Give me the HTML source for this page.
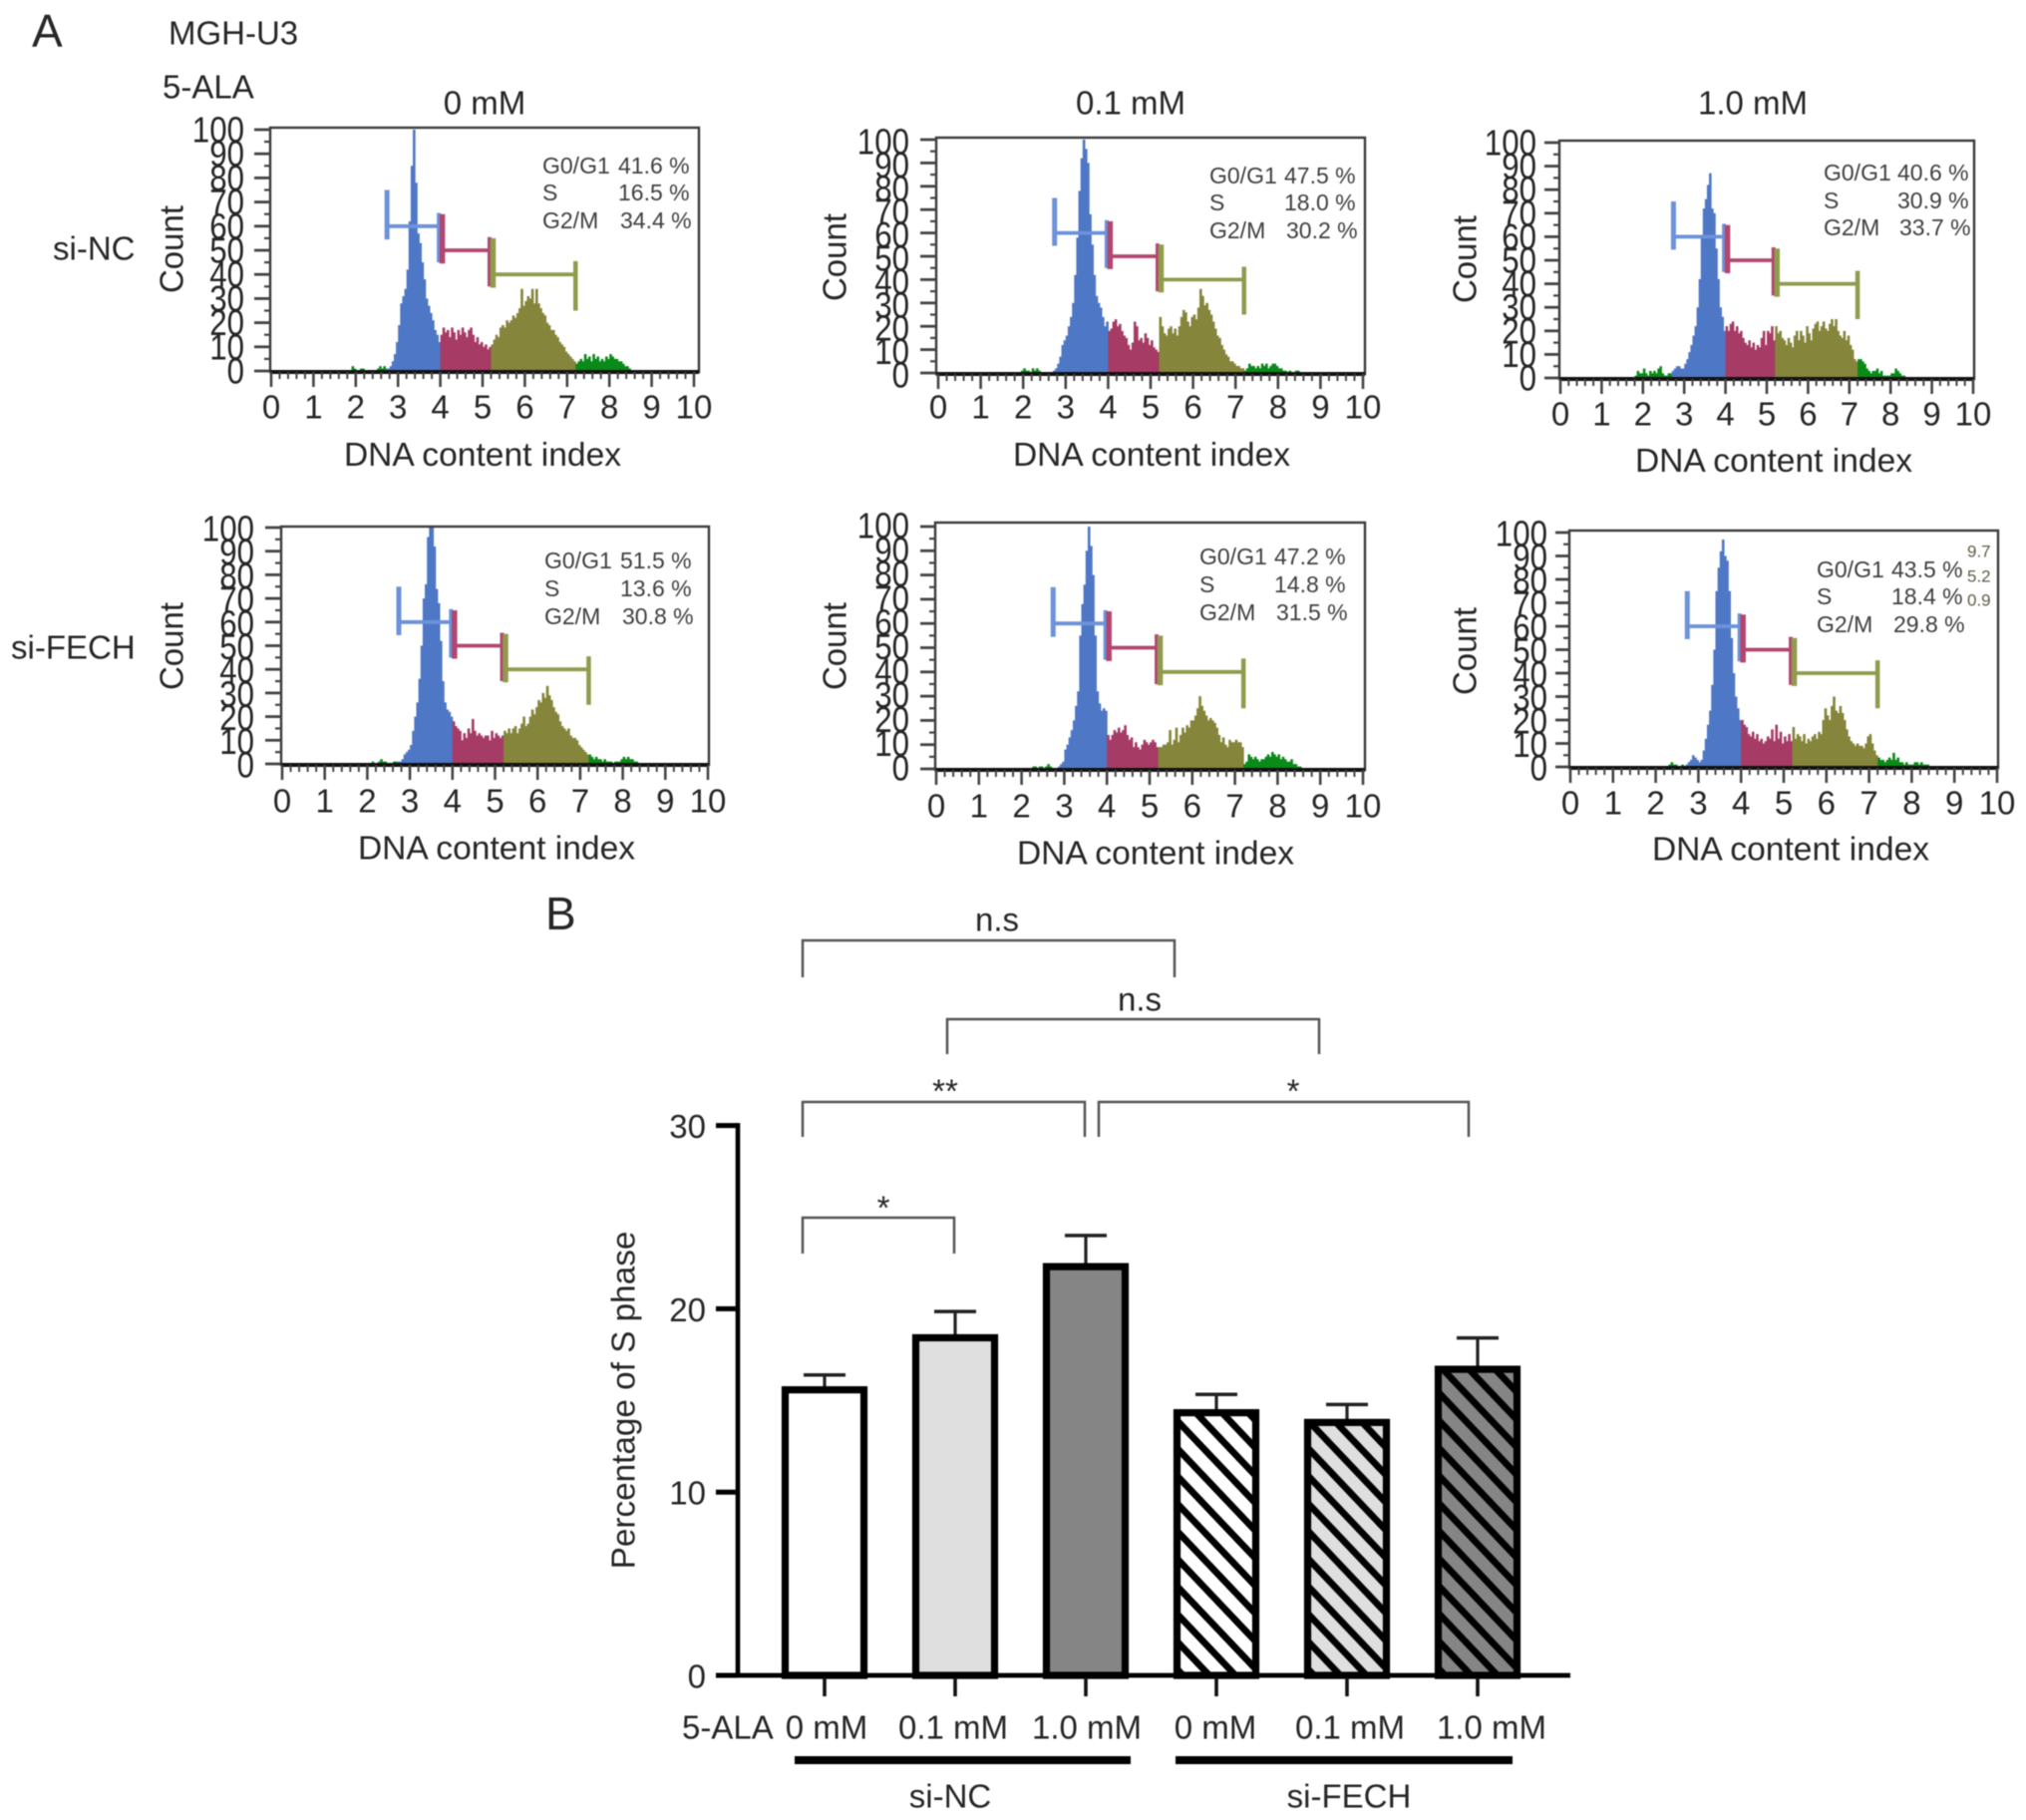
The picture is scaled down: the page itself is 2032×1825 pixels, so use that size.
<!DOCTYPE html>
<html lang="en">
<head>
<meta charset="utf-8">
<title>MGH-U3 cell cycle analysis</title>
<style>
html,body{margin:0;padding:0;background:#fff;}
svg{display:block;filter:blur(0.55px);}
text{font-family:"Liberation Sans",Arial,sans-serif;fill:#262626;dominant-baseline:central;}
.lg{font-size:33px;}
.dna{font-size:33.6px;text-anchor:middle;}
.st{font-size:23px;fill:#3f3f3f;}
.mid{text-anchor:middle;}
.br{fill:none;stroke:#555;stroke-width:2.5;}
</style>
</head>
<body>
<svg id="fig" xmlns="http://www.w3.org/2000/svg" width="2032" height="1825" viewBox="0 0 2032 1825">
<defs>
<pattern id="hatch-white" width="19.06" height="25" patternUnits="userSpaceOnUse" patternTransform="translate(1184 1433) rotate(-43.5)"><rect x="-1" y="-1" width="22" height="27" fill="#ffffff"/><rect x="0" y="-1" width="6.8" height="27" fill="#000"/></pattern>
<pattern id="hatch-light" width="19.06" height="25" patternUnits="userSpaceOnUse" patternTransform="translate(1184 1433) rotate(-43.5)"><rect x="-1" y="-1" width="22" height="27" fill="#dfdfdf"/><rect x="0" y="-1" width="6.8" height="27" fill="#000"/></pattern>
<pattern id="hatch-dark" width="19.06" height="25" patternUnits="userSpaceOnUse" patternTransform="translate(1184 1433) rotate(-43.5)"><rect x="-1" y="-1" width="22" height="27" fill="#858585"/><rect x="0" y="-1" width="6.8" height="27" fill="#000"/></pattern>
</defs>
<rect width="2032" height="1825" fill="#fff"/>

<text x="32" y="31" style="font-size:46px">A</text>
<text x="169" y="33" class="lg">MGH-U3</text>
<text x="163" y="87" class="lg">5-ALA</text>
<text x="486" y="103" class="lg mid">0 mM</text>
<text x="1134" y="103" class="lg mid">0.1 mM</text>
<text x="1758" y="103" class="lg mid">1.0 mM</text>
<text x="53" y="249" class="lg">si-NC</text>
<text x="11" y="649" class="lg">si-FECH</text>

<g id="hist-layer"></g>

<!-- axis titles for the histogram panels -->
<text x="484" y="456.500" class="dna">DNA content index</text>
<text x="1155" y="456.500" class="dna">DNA content index</text>
<text x="1779" y="462.500" class="dna">DNA content index</text>
<text x="498" y="851" class="dna">DNA content index</text>
<text x="1159" y="856" class="dna">DNA content index</text>
<text x="1796" y="852" class="dna">DNA content index</text>
<text transform="translate(172 250) rotate(-90)" class="lg mid">Count</text>
<text transform="translate(837 258) rotate(-90)" class="lg mid">Count</text>
<text transform="translate(1469 260) rotate(-90)" class="lg mid">Count</text>
<text transform="translate(172 648) rotate(-90)" class="lg mid">Count</text>
<text transform="translate(837 648) rotate(-90)" class="lg mid">Count</text>
<text transform="translate(1469 653) rotate(-90)" class="lg mid">Count</text>

<!-- phase percentages -->
<g>
<text x="544" y="166" class="st">G0/G1</text><text x="620" y="166" class="st">41.6 %</text>
<text x="544" y="193" class="st">S</text><text x="620" y="193" class="st">16.5 %</text>
<text x="544" y="221" class="st">G2/M</text><text x="622" y="221" class="st">34.4 %</text>
</g>
<g>
<text x="1213" y="176" class="st">G0/G1</text><text x="1288" y="176" class="st">47.5 %</text>
<text x="1213" y="203" class="st">S</text><text x="1288" y="203" class="st">18.0 %</text>
<text x="1213" y="231" class="st">G2/M</text><text x="1290" y="231" class="st">30.2 %</text>
</g>
<g>
<text x="1829" y="173" class="st">G0/G1</text><text x="1903" y="173" class="st">40.6 %</text>
<text x="1829" y="201" class="st">S</text><text x="1903" y="201" class="st">30.9 %</text>
<text x="1829" y="228" class="st">G2/M</text><text x="1905" y="228" class="st">33.7 %</text>
</g>
<g>
<text x="546" y="562" class="st">G0/G1</text><text x="622" y="562" class="st">51.5 %</text>
<text x="546" y="590" class="st">S</text><text x="622" y="590" class="st">13.6 %</text>
<text x="546" y="618" class="st">G2/M</text><text x="624" y="618" class="st">30.8 %</text>
</g>
<g>
<text x="1203" y="558" class="st">G0/G1</text><text x="1278" y="558" class="st">47.2 %</text>
<text x="1203" y="586" class="st">S</text><text x="1278" y="586" class="st">14.8 %</text>
<text x="1203" y="614" class="st">G2/M</text><text x="1280" y="614" class="st">31.5 %</text>
</g>
<g>
<text x="1822" y="571" class="st">G0/G1</text><text x="1897" y="571" class="st">43.5 %</text>
<text x="1822" y="598" class="st">S</text><text x="1897" y="598" class="st">18.4 %</text>
<text x="1822" y="626" class="st">G2/M</text><text x="1899" y="626" class="st">29.8 %</text>
<text x="1973" y="553" style="font-size:17px;fill:#5f5a48">9.7</text>
<text x="1973" y="578" style="font-size:17px;fill:#5f5a48">5.2</text>
<text x="1973" y="602" style="font-size:17px;fill:#5f5a48">0.9</text>
</g>

<!-- panel B static labels -->
<text x="547" y="916" style="font-size:46px">B</text>
<text x="1000" y="922" class="lg mid">n.s</text>
<text x="1143" y="1002" class="lg mid">n.s</text>
<text x="948" y="1094" class="lg mid">**</text>
<text x="1297" y="1094" class="lg mid">*</text>
<text x="886" y="1211" class="lg mid">*</text>
<polyline class="br" points="805,980 805,943 1178,943 1178,980"/>
<polyline class="br" points="950,1057 950,1022 1323,1022 1323,1057"/>
<polyline class="br" points="805,1140 805,1105 1088,1105 1088,1140"/>
<polyline class="br" points="1102,1140 1102,1105 1473,1105 1473,1140"/>
<polyline class="br" points="805,1257 805,1221 957,1221 957,1257"/>

<g id="bar-layer"></g>

<text transform="translate(626 1404) rotate(-90)" style="font-size:33.3px" class="mid">Percentage of S phase</text>
<text x="684" y="1732" class="lg">5-ALA</text>
<text x="829" y="1732" class="lg mid">0 mM</text>
<text x="956" y="1732" class="lg mid">0.1 mM</text>
<text x="1090" y="1732" class="lg mid">1.0 mM</text>
<text x="1219" y="1732" class="lg mid">0 mM</text>
<text x="1354" y="1732" class="lg mid">0.1 mM</text>
<text x="1496" y="1732" class="lg mid">1.0 mM</text>
<rect x="797" y="1761" width="337" height="8" fill="#000"/>
<rect x="1179" y="1761" width="338" height="8" fill="#000"/>
<text x="953" y="1801" class="lg mid">si-NC</text>
<text x="1353" y="1801" class="lg mid">si-FECH</text>
</svg>

<script>
// ---- histogram data: counts per 0.05-wide bin, starting at DNA index 1.8 ----
const binStart = 1.8;
const binWidth = 0.05;
const histSiNc0 = [
 0,0,2,1,0,0,1,1,0,0,0,0,0,0,1,2,1,2,
 1,1,2,4,7,12,19,28,31,34,42,62,85,100,78,57,53,45,38,30,27,24,21,17,15,12,
 15,18,16,17,14,18,16,13,17,15,18,16,14,17,18,15,12,14,11,12,10,11,9,10,
 11,13,15,14,18,19,18,21,20,21,23,22,24,26,34,27,29,31,30,34,28,34,28,26,24,23,20,19,17,17,15,14,12,11,10,8,7,6,5,4,
 3,4,5,4,7,5,6,4,7,5,6,4,5,4,6,5,7,6,5,5,4,4,3,2,2,1,0,0];
const histSiNc01 = [
 0,0,0,1,2,1,1,0,2,1,2,1,0,0,0,0,0,0,
 1,2,4,7,12,14,16,20,24,30,42,58,78,92,100,96,90,68,55,42,33,30,28,24,20,22,
 18,19,22,23,20,21,18,16,15,12,10,13,22,20,14,15,13,17,15,12,14,11,10,9,
 24,20,17,16,19,20,17,19,16,20,24,27,26,22,20,24,25,23,28,36,33,29,30,27,25,22,19,16,15,12,10,8,7,5,5,4,3,3,2,2,
 1,2,4,3,3,2,3,2,4,3,4,2,3,4,4,3,2,2,1,1,0,1,0,0,1,1,0,0];
const histSiNc10 = [
 1,3,2,2,4,2,1,3,2,3,2,4,5,2,1,1,2,2,
 3,4,5,5,4,4,6,8,11,14,18,22,30,42,60,72,76,82,87,72,70,55,42,30,26,20,
 22,20,23,24,20,22,19,20,17,15,14,16,13,15,12,14,13,17,20,14,20,19,22,16,
 22,19,20,17,16,14,17,15,13,18,20,16,20,18,15,22,19,16,21,23,24,20,22,24,21,20,23,25,22,25,20,18,17,20,16,18,14,12,8,7,
 8,8,7,6,4,3,2,3,3,4,2,3,1,1,1,1,2,2,4,3,2,1,1,0,0,0,0,0];
const histSiFech0 = [
 0,0,0,0,0,0,1,0,0,1,2,1,1,0,0,0,1,1,
 1,1,2,4,5,6,8,14,20,26,36,50,70,76,96,100,100,92,74,68,52,35,26,23,22,20,
 18,16,15,14,10,13,11,15,13,19,14,12,13,12,11,12,12,10,14,11,13,12,11,12,
 14,13,15,13,15,16,13,15,17,20,16,17,20,23,21,24,27,26,30,28,33,29,27,24,22,21,18,16,15,14,15,12,11,11,10,8,7,6,5,4,
 4,3,2,3,2,2,1,2,1,1,1,0,1,1,1,2,3,2,3,2,2,1,1,0,0,0,0,0];
const histSiFech01 = [
 0,0,0,0,0,0,0,0,0,1,1,0,1,1,0,1,2,1,
 0,0,0,1,2,3,8,10,13,16,20,26,32,55,68,76,90,100,92,80,55,32,27,24,25,24,
 14,12,14,16,15,17,15,16,18,14,12,13,9,11,9,8,10,12,11,10,11,12,11,9,
 9,9,10,10,11,16,10,12,17,11,14,17,15,18,17,20,20,22,25,30,26,24,22,20,21,20,19,17,14,11,13,10,9,12,11,11,12,11,11,9,
 2,3,6,5,4,5,4,3,4,4,5,6,5,7,6,5,6,4,5,4,3,3,4,2,2,1,1,0];
const histSiFech10 = [
 0,0,0,0,0,0,0,0,0,0,1,2,1,1,0,0,1,0,
 1,2,3,5,4,3,2,3,7,12,18,24,35,50,75,85,92,97,90,88,75,55,40,30,25,20,
 20,18,17,14,13,15,12,14,11,12,10,11,13,12,16,11,18,12,15,10,13,11,14,11,
 17,12,14,13,11,14,10,12,11,13,14,12,15,14,20,25,22,20,26,30,24,23,26,23,20,16,13,11,10,9,10,9,9,8,10,13,14,10,7,5,
 4,3,3,2,3,4,3,6,3,4,2,2,1,2,1,1,1,2,2,1,2,1,1,1,0,0,0,0];

// gates (cell-cycle phase markers)
const gateStarts = [2.74, 4.0, 5.2];
const gateEnds = [4.0, 5.2, 7.2];
const gateLevels = [60, 50, 40];
const xTickLabels = ['0','1','2','3','4','5','6','7','8','9','10'];
const yTickLabels = ['0','10','20','30','40','50','60','70','80','90','100'];

// ---- bar chart data ----
const barMeans = [15.58, 18.42, 22.3, 14.33, 13.8, 16.7];
const barErrorTops = [16.39, 19.85, 24.0, 15.33, 14.78, 18.41];
const barFills = ['#ffffff', '#dfdfdf', '#858585', 'url(#hatch-white)', 'url(#hatch-light)', 'url(#hatch-dark)'];
const barYTicks = ['0', '10', '20', '30'];

const NS = 'http://www.w3.org/2000/svg';
function mk(parent, tag, attrs) {
  const el = document.createElementNS(NS, tag);
  for (const k in attrs) el.setAttribute(k, attrs[k]);
  parent.appendChild(el);
  return el;
}

const panelFrames = [
 {id:'si-nc-0',    series:histSiNc0,    x0:272, x10:696,  y0:372, y100:130, left:271, right:701,  top:128, bottom:373, tickLeft:255,  labelRight:245,  labelDy:0,   labelY:408},
 {id:'si-nc-01',   series:histSiNc01,   x0:941, x10:1367, y0:374, y100:140, left:939, right:1369, top:138, bottom:375, tickLeft:923,  labelRight:912,  labelDy:2,   labelY:408},
 {id:'si-nc-10',   series:histSiNc10,   x0:1565,x10:1979, y0:379, y100:143, left:1564,right:1980, top:141, bottom:380, tickLeft:1549, labelRight:1541, labelDy:0,   labelY:415},
 {id:'si-fech-0',  series:histSiFech0,  x0:283, x10:710,  y0:766, y100:529, left:282, right:711,  top:528, bottom:767, tickLeft:266,  labelRight:255,  labelDy:1,   labelY:803},
 {id:'si-fech-01', series:histSiFech01, x0:939, x10:1367, y0:771, y100:528, left:938, right:1369, top:524, bottom:772, tickLeft:923,  labelRight:912,  labelDy:-1,  labelY:808},
 {id:'si-fech-10', series:histSiFech10, x0:1575,x10:2003, y0:769, y100:534, left:1574,right:2004, top:532, bottom:770, tickLeft:1560, labelRight:1552, labelDy:1,   labelY:805}
];
const gateColors = ['#6c92da', '#b2466f', '#8f9c4c'];
const gateStartCaps = [5, 5.5, 5.5];
const gateEndCaps = [4, 4, 4.5];

function phaseColor(x) {
  if (x >= 2.7 && x < 4.0) return '#4e77c6';
  if (x >= 4.0 && x < 5.2) return '#a63c66';
  if (x >= 5.2 && x < 7.2) return '#85853b';
  return '#0a8a18';
}

function drawPanel(p) {
  const layer = document.getElementById('hist-layer');
  const g = mk(layer, 'g', {});
  
  
  const xs = v => p.x0 + (p.x10 - p.x0) * v / 10;
  const ys = v => p.y0 + (p.y100 - p.y0) * v / 100;

  const bins = mk(g, 'g', {});
  
  
  p.series.forEach((c, i) => {
    if (c <= 0) return;
    const x = binStart + binWidth * i;
    const r = mk(bins, 'rect', {
      x: xs(x).toFixed(2), y: ys(c).toFixed(2),
      width: (xs(binWidth) - xs(0) + 0.5).toFixed(2),
      height: (p.y0 - ys(c)).toFixed(2), fill: phaseColor(x + binWidth / 2)
    });
    
    
  });

  const frame = mk(g, 'rect', {x:p.left, y:p.top, width:p.right-p.left, height:p.bottom-p.top, fill:'none', stroke:'#3a3a3a', 'stroke-width':2.4});
  
  
  const base = mk(g, 'line', {x1:p.left, x2:p.right, y1:p.bottom, y2:p.bottom, stroke:'#111', 'stroke-width':4});
  
  

  // y ticks
  for (let v = 0; v <= 100; v += 5) {
    const major = v % 10 === 0;
    const t = mk(g, 'line', {x1: major ? p.tickLeft : p.left - 6, x2: p.left, y1: ys(v), y2: ys(v), stroke:'#444', 'stroke-width': major ? 2.8 : 2.2});
    
    
  }
  yTickLabels.forEach(lab => {
    const t = mk(g, 'text', {x:p.labelRight, y:ys(+lab) + p.labelDy, 'text-anchor':'end', style:'font-size:36px', textLength:(lab.length * 17.4).toFixed(1), lengthAdjust:'spacingAndGlyphs'});
    t.textContent = lab;
    
    
  });

  // x ticks
  for (let k = 0; k <= 50; k++) {
    const v = k * 0.2;
    const major = k % 5 === 0;
    const t = mk(g, 'line', {x1: xs(v), x2: xs(v), y1: p.bottom, y2: p.bottom + (major ? 15 : 7), stroke:'#444', 'stroke-width': major ? 2.6 : 2});
    
    
  }
  xTickLabels.forEach(lab => {
    const t = mk(g, 'text', {x:xs(+lab), y:p.labelY, 'text-anchor':'middle', class:'lg'});
    t.textContent = lab;
    
    
  });

  // gates: left cap sits high, right cap sits low, adjacent caps touch side by side
  gateStarts.forEach((s, i) => {
    const e = gateEnds[i], lvl = gateLevels[i], col = gateColors[i];
    const gate = mk(g, 'g', {stroke: col, fill: 'none'});
    
    
    const sx = xs(s) + (i ? 2 : 0);
    const ex = xs(e) - (i < 2 ? 1.5 : 0);
    mk(gate, 'line', {x1:sx, x2:ex, y1:ys(lvl), y2:ys(lvl), 'stroke-width':3.8});
    mk(gate, 'line', {x1:sx, x2:sx, y1:ys(lvl + 15), y2:ys(lvl - 5.5), 'stroke-width':gateStartCaps[i]});
    mk(gate, 'line', {x1:ex, x2:ex, y1:ys(lvl + 5.5), y2:ys(lvl - 15), 'stroke-width':gateEndCaps[i]});
  });
}
panelFrames.forEach(drawPanel);

// ---- bar chart ----
(function drawBars() {
  const layer = document.getElementById('bar-layer');
  const yBar = v => 1680 - 18.38 * v;
  const xBar = i => 827 + 131 * i;

  barMeans.forEach((m, i) => {
    const c = xBar(i);
    const err = mk(layer, 'g', {stroke:'#222'});
    
    
    mk(err, 'line', {x1:c, x2:c, y1:yBar(m), y2:yBar(barErrorTops[i]), 'stroke-width':3.2});
    mk(err, 'line', {x1:c-21, x2:c+21, y1:yBar(barErrorTops[i]), y2:yBar(barErrorTops[i]), 'stroke-width':3.5});
    const r = mk(layer, 'rect', {x:c-39.5, y:yBar(m), width:79, height:yBar(0)-yBar(m), fill:barFills[i], stroke:'#000', 'stroke-width':7.2});
    
    
    const t = mk(layer, 'line', {x1:c, x2:c, y1:yBar(0), y2:1701, stroke:'#111', 'stroke-width':3.6});
    
    
  });

  const yAxis = mk(layer, 'line', {x1:740, x2:740, y1:yBar(30)-2.5, y2:yBar(0), stroke:'#000', 'stroke-width':4.6});
  
  
  const xAxis = mk(layer, 'line', {x1:718, x2:1575, y1:yBar(0), y2:yBar(0), stroke:'#000', 'stroke-width':4.8});
  
  
  barYTicks.forEach(lab => {
    const t = mk(layer, 'line', {x1:718, x2:740, y1:yBar(+lab), y2:yBar(+lab), stroke:'#000', 'stroke-width':5});
    
    
    const l = mk(layer, 'text', {x:708, y:yBar(+lab)+1, 'text-anchor':'end', class:'lg'});
    l.textContent = lab;
    
    
  });
})();
</script>
</body>
</html>
